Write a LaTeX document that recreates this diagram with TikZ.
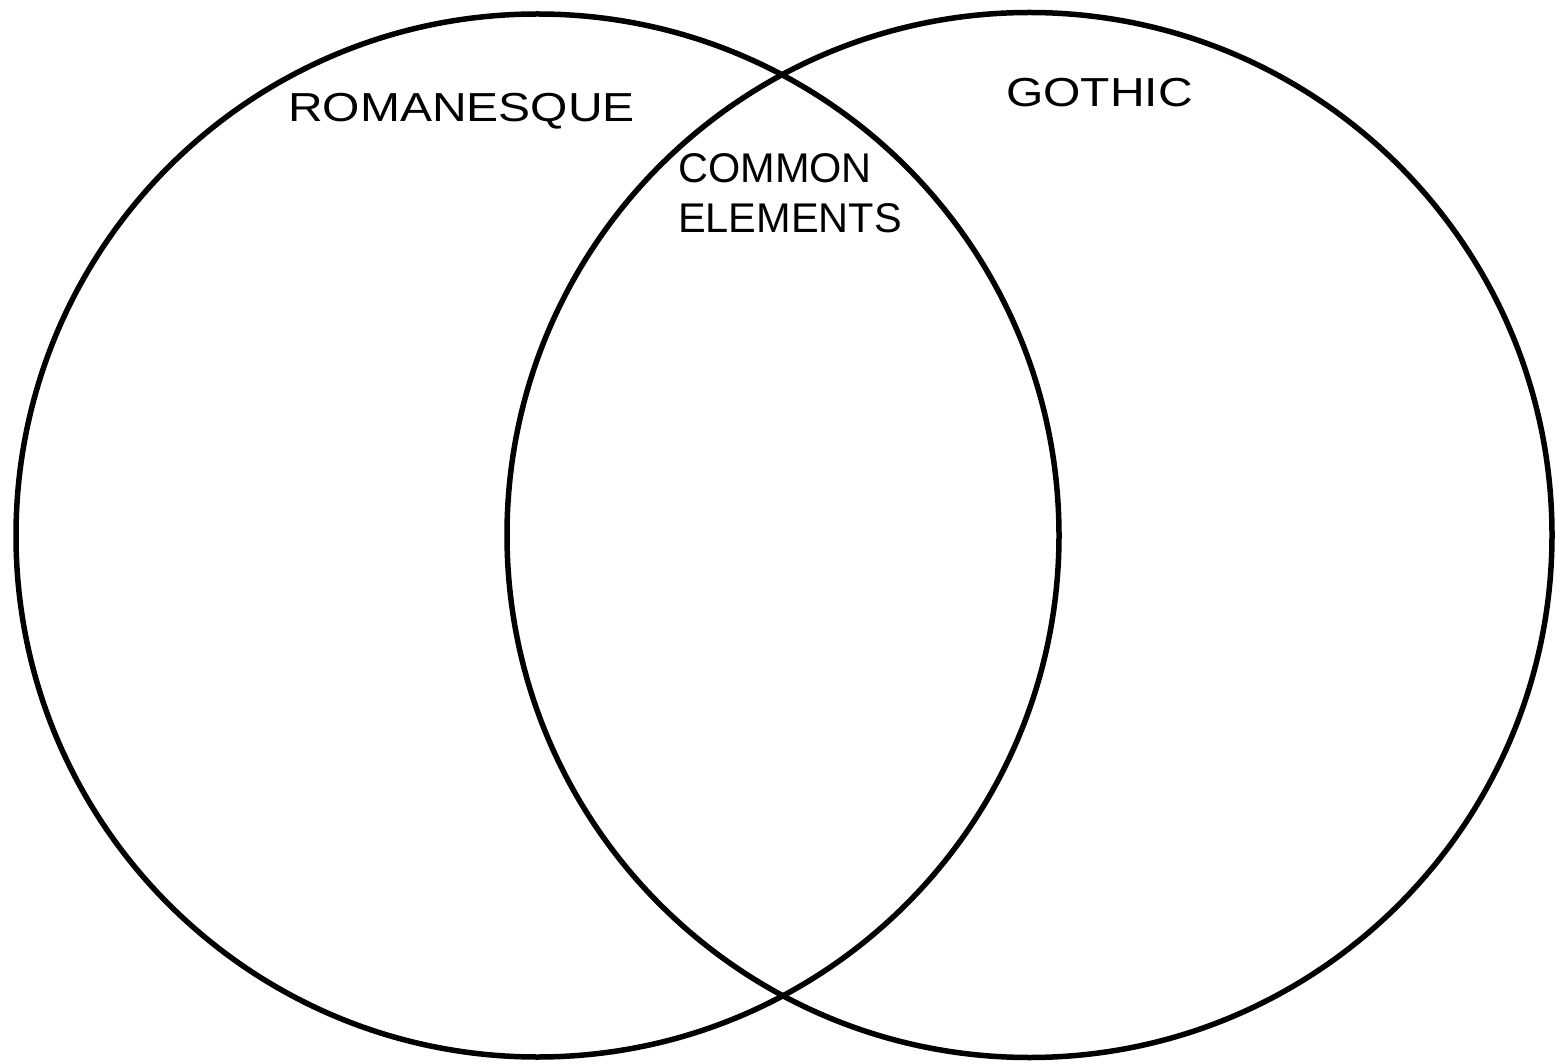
\documentclass[tikz,border=0pt]{standalone}
\usepackage{fontspec}
\setmainfont{Liberation Sans}
\newfontfamily\widefont[FakeStretch=1.185]{Liberation Sans}
\begin{document}
\begin{tikzpicture}[x=1pt,y=-1pt,
  ring/.style={draw=black, line width=5.5pt, circle, inner sep=0pt, outer sep=0pt},
  title/.style={anchor=base west, inner sep=0pt, font=\widefont\fontsize{40.5}{48}\selectfont},
  mid/.style={anchor=base west, inner sep=0pt, align=left, font=\fontsize{41.5}{50}\selectfont}]
\useasboundingbox[fill=white] (0,0) rectangle (1559,1064);
\node[ring, minimum size=1043pt] (romanesque) at (537.5,535.5) {};
\node[ring, minimum size=1045pt] (gothic) at (1029.5,535) {};
\node[title] (romlabel) at (288,122) {ROMANESQUE};
\node[title] (gothlabel) at (1006,107) {GOTHIC};
\node[mid] (common) at (678,233) {COMMON\\ELEMENTS};
\end{tikzpicture}
\end{document}
